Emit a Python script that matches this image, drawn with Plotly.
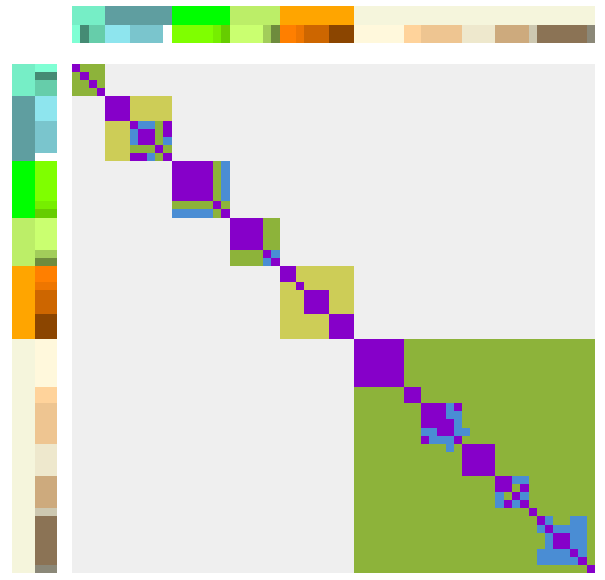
import plotly.graph_objects as go

# ---- annotation data ----
group_sizes = [4, 8, 7, 6, 9, 29]
group_colors = ["#76eec6", "#5f9ea0", "#00ff00", "#bcee68", "#ffa500", "#f5f5dc"]

sub_sizes = [1, 1, 2,
             3, 4, 1,
             5, 1, 1,
             4, 1, 1,
             2, 1, 3, 3,
             6, 2, 5, 4, 4, 1, 6, 1]
sub_colors = ["#7fffd4", "#458b74", "#66cdaa",
              "#8ee5ee", "#7ac5cd", "#ffffff",
              "#7fff00", "#76ee00", "#66cd00",
              "#caff70", "#a2cd5a", "#6e8b3d",
              "#ff7f00", "#ee7600", "#cd6600", "#8b4500",
              "#fff8dc", "#ffd39b", "#eec591", "#eee8cd", "#cdaa7d", "#cdc8b1", "#8b7355", "#8b8878"]

# ---- matrix data: one block per group along the diagonal ----
# codes: . none, P purple, B blue, O olive, Y yellow
cell_codes = [".", "P", "B", "O", "Y"]
cell_colors = ["#efefef", "#8600c9", "#4a8dd4", "#8db33a", "#cdcd57"]

block1 = ["POOO",
          "OPOO",
          "OOPO",
          "OOOP"]
block2 = ["PPPYYYYY",
          "PPPYYYYY",
          "PPPYYYYY",
          "YYYPBBOP",
          "YYYBPPOP",
          "YYYBPPOB",
          "YYYOOOPO",
          "YYYPPBOP"]
block3 = ["PPPPPOB",
          "PPPPPOB",
          "PPPPPOB",
          "PPPPPOB",
          "PPPPPOB",
          "OOOOOPO",
          "BBBBBOP"]
block4 = ["PPPPOO",
          "PPPPOO",
          "PPPPOO",
          "PPPPOO",
          "OOOOPB",
          "OOOOBP"]
block5 = ["PPYYYYYYY",
          "PPYYYYYYY",
          "YYPYYYYYY",
          "YYYPPPYYY",
          "YYYPPPYYY",
          "YYYPPPYYY",
          "YYYYYYPPP",
          "YYYYYYPPP",
          "YYYYYYPPP"]
block6 = ["PPPPPPOOOOOOOOOOOOOOOOOOOOOOO",
          "PPPPPPOOOOOOOOOOOOOOOOOOOOOOO",
          "PPPPPPOOOOOOOOOOOOOOOOOOOOOOO",
          "PPPPPPOOOOOOOOOOOOOOOOOOOOOOO",
          "PPPPPPOOOOOOOOOOOOOOOOOOOOOOO",
          "PPPPPPOOOOOOOOOOOOOOOOOOOOOOO",
          "OOOOOOPPOOOOOOOOOOOOOOOOOOOOO",
          "OOOOOOPPOOOOOOOOOOOOOOOOOOOOO",
          "OOOOOOOOPPPBPOOOOOOOOOOOOOOOO",
          "OOOOOOOOPPPBBOOOOOOOOOOOOOOOO",
          "OOOOOOOOPPPPBOOOOOOOOOOOOOOOO",
          "OOOOOOOOBBPPBBOOOOOOOOOOOOOOO",
          "OOOOOOOOPBBBPOOOOOOOOOOOOOOOO",
          "OOOOOOOOOOOBOPPPPOOOOOOOOOOOO",
          "OOOOOOOOOOOOOPPPPOOOOOOOOOOOO",
          "OOOOOOOOOOOOOPPPPOOOOOOOOOOOO",
          "OOOOOOOOOOOOOPPPPOOOOOOOOOOOO",
          "OOOOOOOOOOOOOOOOOPPBBOOOOOOOO",
          "OOOOOOOOOOOOOOOOOPPOPOOOOOOOO",
          "OOOOOOOOOOOOOOOOOBOPBOOOOOOOO",
          "OOOOOOOOOOOOOOOOOBPBPOOOOOOOO",
          "OOOOOOOOOOOOOOOOOOOOOPOOOOOOO",
          "OOOOOOOOOOOOOOOOOOOOOOPBOOBBO",
          "OOOOOOOOOOOOOOOOOOOOOOBPBBBBO",
          "OOOOOOOOOOOOOOOOOOOOOOOBPPBBO",
          "OOOOOOOOOOOOOOOOOOOOOOOBPPBBO",
          "OOOOOOOOOOOOOOOOOOOOOOBBBBPBO",
          "OOOOOOOOOOOOOOOOOOOOOOBBBBBPO",
          "OOOOOOOOOOOOOOOOOOOOOOOOOOOOP"]
blocks = [block1, block2, block3, block4, block5, block6]

# ---- build arrays ----
N = sum(group_sizes)
group_of = []
for g, s in enumerate(group_sizes):
    group_of += [g] * s
sub_of = []
for k, s in enumerate(sub_sizes):
    sub_of += [k] * s

mat = [[0] * N for _ in range(N)]
off = 0
for blk in blocks:
    for r, row in enumerate(blk):
        for c, ch in enumerate(row):
            mat[off + r][off + c] = cell_codes.index(ch)
    off += len(blk)


def discrete_scale(colors):
    n = len(colors)
    sc = []
    for i, c in enumerate(colors):
        sc.append([i / n, c])
        sc.append([(i + 1) / n, c])
    return sc


ann_colors = group_colors + sub_colors
ng = len(group_colors)
top_z = [group_of, [ng + s for s in sub_of]]
left_z = [[group_of[i], ng + sub_of[i]] for i in range(N)]
idx = list(range(N))

fig = go.Figure()
fig.add_trace(go.Heatmap(z=mat, x=idx, y=idx, colorscale=discrete_scale(cell_colors),
                         zmin=-0.5, zmax=len(cell_colors) - 0.5, showscale=False,
                         xaxis="x", yaxis="y", hoverinfo="skip"))
fig.add_trace(go.Heatmap(z=top_z, x=idx, y=[0, 1], colorscale=discrete_scale(ann_colors),
                         zmin=-0.5, zmax=len(ann_colors) - 0.5, showscale=False,
                         xaxis="x2", yaxis="y2", hoverinfo="skip"))
fig.add_trace(go.Heatmap(z=left_z, x=[0, 1], y=idx, colorscale=discrete_scale(ann_colors),
                         zmin=-0.5, zmax=len(ann_colors) - 0.5, showscale=False,
                         xaxis="x3", yaxis="y3", hoverinfo="skip"))

W, H = 605, 580
xd = [72 / W, 595 / W]
yd = [1 - 573 / H, 1 - 64 / H]
ax = dict(visible=False, showgrid=False, zeroline=False, fixedrange=True)
fig.update_layout(
    width=W, height=H, margin=dict(l=0, r=0, t=0, b=0),
    paper_bgcolor="white", plot_bgcolor="white",
    xaxis=dict(ax, domain=xd, range=[-0.5, N - 0.5], anchor="y"),
    yaxis=dict(ax, domain=yd, range=[N - 0.5, -0.5], anchor="x"),
    xaxis2=dict(ax, domain=xd, range=[-0.5, N - 0.5], anchor="y2"),
    yaxis2=dict(ax, domain=[1 - 43 / H, 1 - 6 / H], range=[1.5, -0.5], anchor="x2"),
    xaxis3=dict(ax, domain=[12 / W, 57 / W], range=[-0.5, 1.5], anchor="y3"),
    yaxis3=dict(ax, domain=yd, range=[N - 0.5, -0.5], anchor="x3"),
)
fig.write_html("out.html")
